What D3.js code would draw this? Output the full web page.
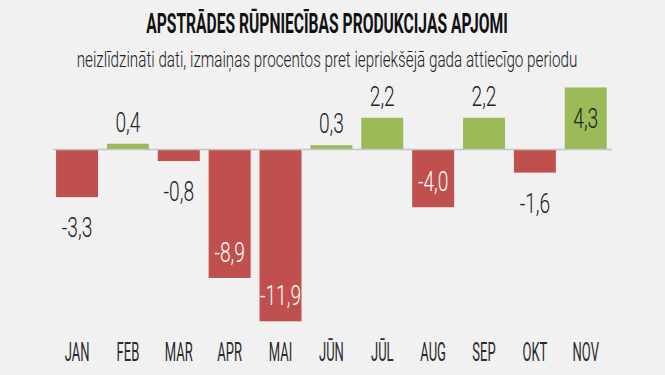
<!DOCTYPE html>
<html>
<head>
<meta charset="utf-8">
<script src="https://cdn.jsdelivr.net/npm/d3@7"></script>
<style>
	html, body { margin: 0; padding: 0; background: #f1f1f1; }
	svg { display: block; }
	text { font-family: Roboto, "Liberation Sans", sans-serif; }
</style>
</head>
<body>
<svg id="chart"></svg>
<script>
const title = "APSTRĀDES RŪPNIECĪBAS PRODUKCIJAS APJOMI";
const subtitle = "neizlīdzināti dati, izmaiņas procentos pret iepriekšējā gada attiecīgo periodu";
const months = ["JAN", "FEB", "MAR", "APR", "MAI", "JŪN", "JŪL", "AUG", "SEP", "OKT", "NOV"];
const values = [-3.3, 0.4, -0.8, -8.9, -11.9, 0.3, 2.2, -4.0, 2.2, -1.6, 4.3];

const width = 665;
const height = 375;
const bg = "#f1f1f1";
const red = "#c0504d";
const green = "#9bbb59";

const svg = d3.select("#chart")
	.attr("width", width)
	.attr("height", height);

svg.append("rect")
	.attr("width", width)
	.attr("height", height)
	.attr("fill", bg);

const x = d3.scaleBand()
	.domain(months)
	.range([51.6, 611.2])
	.paddingInner(0.175)
	.paddingOuter(0.0875);

const y = d3.scaleLinear()
	.domain([-12, 5])
	.range([322.7, 77.35]);

const fmt = v => d3.format(".1f")(v).replace(".", ",").replace("−", "-");

// the original uses a thin condensed face, so squeeze a normal one sideways
function squeeze(sel, sx) {
	sel.each(function () {
		const t = d3.select(this);
		t.attr("transform", `translate(${t.attr("data-x")},${t.attr("data-y")}) scale(${sx},1)`);
	});
}

// how much to squeeze so that `sample` comes out `target` px wide
function scaleFor(sample, size, weight, target) {
	const t = svg.append("text")
		.attr("font-size", size)
		.attr("font-weight", weight)
		.text(sample);
	const len = t.node().getComputedTextLength();
	t.remove();
	return target / len;
}

// title + subtitle
const titleText = svg.append("text")
	.attr("data-x", 327)
	.attr("data-y", 32.5)
	.attr("text-anchor", "middle")
	.attr("font-size", 28)
	.attr("font-weight", 700)
	.attr("fill", "#111")
	.text(title);
squeeze(titleText, 362 / titleText.node().getComputedTextLength());

const subText = svg.append("text")
	.attr("data-x", 327)
	.attr("data-y", 66.5)
	.attr("text-anchor", "middle")
	.attr("font-size", 22)
	.attr("font-weight", 300)
	.attr("fill", "#222")
	.text(subtitle);
squeeze(subText, 501 / subText.node().getComputedTextLength());

const data = months.map((m, i) => ({month: m, value: values[i]}));

// bars
svg.append("g")
	.selectAll("rect")
	.data(data)
	.join("rect")
	.attr("x", d => x(d.month))
	.attr("width", x.bandwidth())
	.attr("y", d => y(Math.max(0, d.value)))
	.attr("height", d => Math.abs(y(d.value) - y(0)))
	.attr("fill", d => d.value < 0 ? red : green);

// zero line
svg.append("line")
	.attr("x1", 53)
	.attr("x2", 612)
	.attr("y1", y(0))
	.attr("y2", y(0))
	.attr("stroke", "#c4c4c4")
	.attr("stroke-width", 1.5);

// value labels: big bars get them inside, small ones outside
const inside = d => Math.abs(d.value) >= 4;

function labelY(d) {
	const end = y(d.value);
	if (d.value >= 0) return inside(d) ? end + 41 : end - 12;
	return inside(d) ? end - 16 : end + 40;
}

const labels = svg.append("g")
	.selectAll("text")
	.data(data)
	.join("text")
	.attr("data-x", d => x(d.month) + x.bandwidth() / 2)
	.attr("data-y", labelY)
	.attr("text-anchor", "middle")
	.attr("font-size", 28)
	.attr("font-weight", 300)
	.attr("fill", d => inside(d) && d.value < 0 ? "#fff" : "#222")
	.text(d => fmt(d.value));
squeeze(labels, scaleFor("0,4", 28, 300, 25));

// month axis
const ticks = svg.append("g")
	.selectAll("text")
	.data(months)
	.join("text")
	.attr("data-x", d => x(d) + x.bandwidth() / 2)
	.attr("data-y", 360.5)
	.attr("text-anchor", "middle")
	.attr("font-size", 26)
	.attr("font-weight", 400)
	.attr("fill", "#2a2a2a")
	.text(d => d);
squeeze(ticks, scaleFor("MAR", 26, 400, 28));
</script>
</body>
</html>
